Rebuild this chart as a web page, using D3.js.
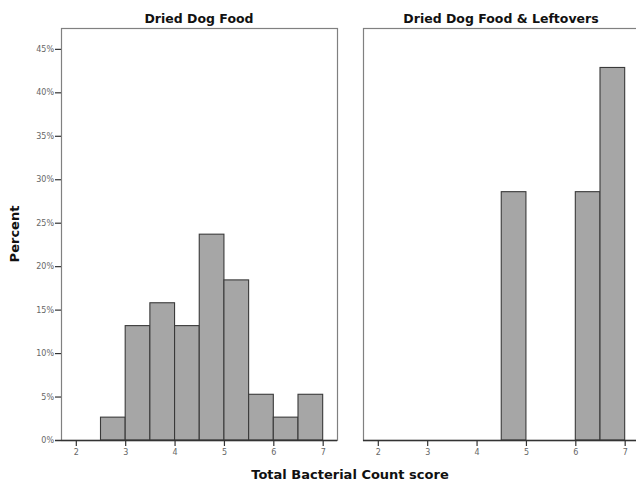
<!DOCTYPE html>
<html>
<head>
<meta charset="utf-8">
<script src="https://cdn.jsdelivr.net/npm/d3@7"></script>
<style>
  html, body { margin: 0; padding: 0; background: #fff; }
  svg { display: block; }
  text { font-family: "DejaVu Sans", Verdana, sans-serif; }
</style>
</head>
<body>
<div id="chart"></div>
<script>
// Histogram bins (score intervals of width 0.5)
const binStarts = [2.5, 3, 3.5, 4, 4.5, 5, 5.5, 6, 6.5];
const binWidth = 0.5;

// Percent of cases per bin, one array per diet group
const driedFood = [2.63, 13.16, 15.79, 13.16, 23.68, 18.42, 5.26, 2.63, 5.26];
const driedFoodLeftovers = [0, 0, 0, 0, 28.57, 0, 0, 28.57, 42.86];

const panelTitles = ["Dried Dog Food", "Dried Dog Food & Leftovers"];
const xTickValues = [2, 3, 4, 5, 6, 7];
const yTickValues = [0, 5, 10, 15, 20, 25, 30, 35, 40, 45];
const yAxisTitle = "Percent";
const xAxisTitle = "Total Bacterial Count score";

const W = 636, H = 487;
const plotTop = 28, plotBottom = 440;
const tickFont = "'DejaVu Sans', Verdana, sans-serif";
const panels = [
  { left: 61, right: 337, values: driedFood, showY: true },
  { left: 363, right: 639, values: driedFoodLeftovers, showY: false }
];

const svg = d3.select("#chart").append("svg")
  .attr("width", W).attr("height", H);

const y = d3.scaleLinear().domain([0, 47.4]).range([plotBottom, plotTop]);

panels.forEach((p, i) => {
  const x = d3.scaleLinear().domain([1.7, 7.29]).range([p.left, p.right]);
  const g = svg.append("g");

  // frame
  g.append("rect")
    .attr("x", p.left + 0.5).attr("y", plotTop + 0.5)
    .attr("width", p.right - p.left).attr("height", plotBottom - plotTop)
    .attr("fill", "#fff").attr("stroke", "#808080").attr("stroke-width", 1.2);

  // bars
  const bins = binStarts.map((s, k) => ({ x0: s, x1: s + binWidth, v: p.values[k] }))
    .filter(d => d.v > 0);
  g.selectAll("rect.bar").data(bins).enter().append("rect")
    .attr("class", "bar")
    .attr("x", d => x(d.x0))
    .attr("y", d => y(d.v))
    .attr("width", d => x(d.x1) - x(d.x0))
    .attr("height", d => y(0) - y(d.v))
    .attr("fill", "#a6a6a6")
    .attr("stroke", "#3a3a3a")
    .attr("stroke-width", 1.1);

  // x axis
  const xAxis = d3.axisBottom(x).tickValues(xTickValues).tickSize(6).tickPadding(3)
    .tickFormat(d3.format("d"));
  const xg = g.append("g").attr("transform", `translate(0,${plotBottom})`).call(xAxis);
  xg.select(".domain").remove();
  xg.selectAll(".tick line").attr("stroke", "#333").attr("stroke-width", 1.2);
  xg.selectAll(".tick text").attr("fill", "#666").attr("font-size", 8)
    .attr("font-family", tickFont);

  // baseline
  g.append("line")
    .attr("x1", p.showY ? p.left - 6 : p.left).attr("x2", p.right)
    .attr("y1", plotBottom + 0.5).attr("y2", plotBottom + 0.5)
    .attr("stroke", "#333").attr("stroke-width", 1.4);

  if (p.showY) {
    const yAxis = d3.axisLeft(y).tickValues(yTickValues.slice(1)).tickSize(6).tickPadding(1)
      .tickFormat(d => d + "%");
    const yg = g.append("g").attr("transform", `translate(${p.left},0)`).call(yAxis);
    yg.select(".domain").remove();
    yg.selectAll(".tick line").attr("stroke", "#333").attr("stroke-width", 1.2);
    yg.selectAll(".tick text").attr("fill", "#666").attr("font-size", 8)
      .attr("font-family", tickFont);
    // 0% label sits on the baseline
    g.append("text")
      .attr("x", p.left - 7).attr("y", y(0)).attr("dy", "0.32em")
      .attr("text-anchor", "end").attr("fill", "#666").attr("font-size", 8)
      .text(yTickValues[0] + "%");
  }

  // panel title
  g.append("text")
    .attr("x", (p.left + p.right) / 2).attr("y", 23)
    .attr("text-anchor", "middle")
    .attr("font-size", 12.5).attr("font-weight", "bold").attr("fill", "#111")
    .text(panelTitles[i]);
});

// axis titles
svg.append("text")
  .attr("x", 350).attr("y", 479)
  .attr("text-anchor", "middle")
  .attr("font-size", 13).attr("font-weight", "bold").attr("fill", "#111")
  .text(xAxisTitle);

svg.append("text")
  .attr("transform", `translate(19,${(plotTop + plotBottom) / 2}) rotate(-90)`)
  .attr("text-anchor", "middle")
  .attr("font-size", 13).attr("font-weight", "bold").attr("fill", "#111")
  .text(yAxisTitle);
</script>
</body>
</html>
